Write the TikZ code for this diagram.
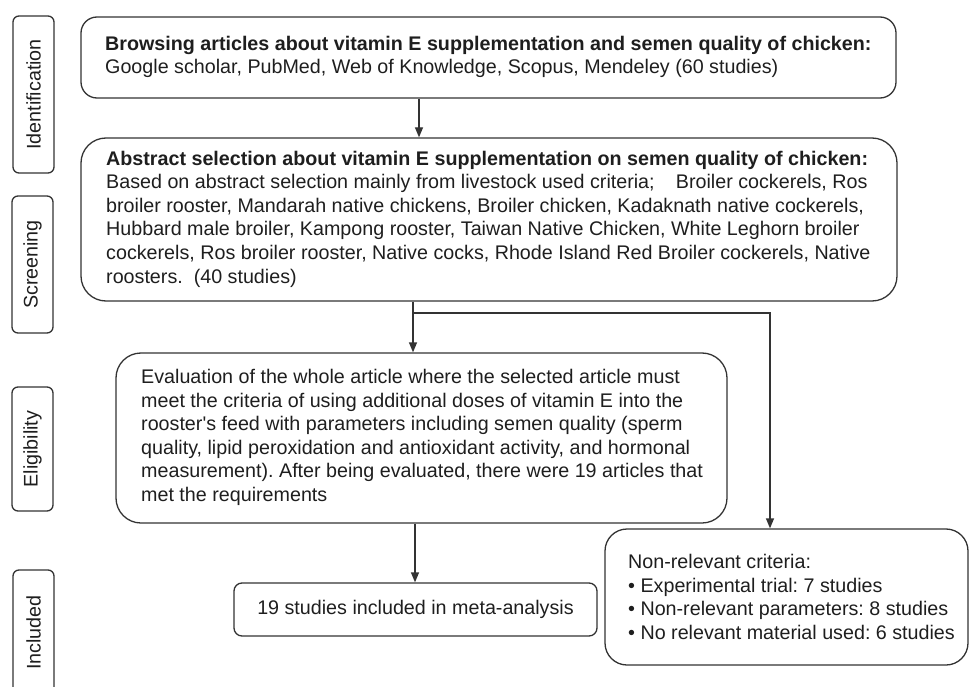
\documentclass[tikz,border=0pt]{standalone}
\usepackage{fontspec}
\setmainfont{Liberation Sans}
\usetikzlibrary{arrows.meta}
\definecolor{ln}{HTML}{333333}
\definecolor{tx}{HTML}{1E1E1E}
\frenchspacing
\begin{document}
\begin{tikzpicture}[x=1bp,y=-1bp,
  every node/.style={text=tx,font=\fontsize{19.7bp}{23.6bp}\selectfont},
  frame/.style={draw=ln,line width=1.3bp,inner sep=0bp},
  txt/.style={inner sep=0bp,align=left,anchor=west},
  side/.style={draw=ln,line width=1.3bp,rounded corners=6bp,minimum height=41bp,rotate=90,inner sep=0bp},
  arr/.style={draw=ln,line width=1.3bp,-{Triangle[width=8bp,length=10bp]}},
  con/.style={draw=ln,line width=1.3bp}]
\useasboundingbox (0,0) rectangle (970,687);
\clip (0,0) rectangle (970,687);
% side labels
\node[side,minimum width=157bp] (sid) at (33.5,94.5) {Identification};
\node[side,minimum width=137bp] (sscr) at (32.5,264.5) {Screening};
\node[side,minimum width=124bp] (selig) at (32.5,449) {Eligibility};
\node[side,minimum width=125bp] (sinc) at (33.5,632.5) {Included};
% box frames
\node[frame,rounded corners=16bp,minimum width=815bp,minimum height=81bp] (b1) at (488.5,57.5) {};
\node[frame,rounded corners=25bp,minimum width=816bp,minimum height=163bp] (b2) at (489,219.5) {};
\node[frame,rounded corners=25bp,minimum width=611bp,minimum height=170bp] (b3) at (421.5,438) {};
\node[frame,rounded corners=22bp,minimum width=363bp,minimum height=136bp] (b4) at (786.5,597) {};
\node[frame,rounded corners=8bp,minimum width=363bp,minimum height=53bp] (b5) at (415.5,609.5) {};
% box texts
\node[txt] (t1) at (105,57) {\textbf{Browsing articles about vitamin E supplementation and semen quality of chicken:}\\
 Google scholar, PubMed, Web of Knowledge, Scopus, Mendeley (60 studies)};
\node[txt] (t2) at (106,219) {\textbf{Abstract selection about vitamin E supplementation on semen quality of chicken:}\\
 Based on abstract selection mainly from livestock used criteria;\hspace{0.8em} Broiler cockerels, Ros\\
 broiler rooster, Mandarah native chickens, Broiler chicken, Kadaknath native cockerels,\\
 Hubbard male broiler, Kampong rooster, Taiwan Native Chicken, White Leghorn broiler\\
 cockerels, Ros broiler rooster, Native cocks, Rhode Island Red Broiler cockerels, Native\\
 roosters.\ \ (40 studies)};
\node[txt] (t3) at (141,437.5) {Evaluation of the whole article where the selected article must\\
 meet the criteria of using additional doses of vitamin E into the\\
 rooster\textquotesingle s feed with parameters including semen quality (sperm\\
 quality, lipid peroxidation and antioxidant activity, and hormonal\\
 measurement). After being evaluated, there were 19 articles that\\
 met the requirements};
\node[txt] (t4) at (628,597) {Non-relevant criteria:\\
 \textbullet\ Experimental trial: 7 studies\\
 \textbullet\ Non-relevant parameters: 8 studies\\
 \textbullet\ No relevant material used: 6 studies};
\node[txt,anchor=center] (t5) at (415.5,609) {19 studies included in meta-analysis};
% connectors
\coordinate (a1) at (419,0);
\coordinate (j) at (413,313);
\coordinate (k) at (770,313);
\coordinate (a3) at (415,0);
\draw[arr] (b1.south -| a1) -- (b2.north -| a1);
\draw[con] (b2.south -| j) -- (j);
\draw[arr] (j) -- (b3.north -| j);
\draw[arr] (j) -- (k) -- (b4.north -| k);
\draw[arr] (b3.south -| a3) -- (b5.north -| a3);
\end{tikzpicture}
\end{document}
